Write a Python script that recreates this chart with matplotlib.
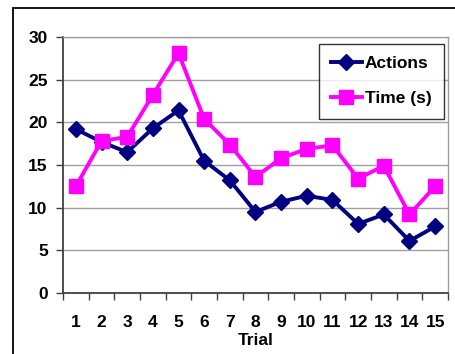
import matplotlib
matplotlib.use("Agg")
import matplotlib.pyplot as plt
from matplotlib.patches import Rectangle

trials = list(range(1, 16))
actions = [19.2, 17.7, 16.5, 19.3, 21.4, 15.5, 13.2, 9.5, 10.7, 11.4, 10.9, 8.1, 9.2, 6.1, 7.8]
time_s = [12.5, 17.8, 18.3, 23.2, 28.1, 20.4, 17.4, 13.6, 15.8, 16.9, 17.3, 13.4, 14.9, 9.2, 12.5]
yticks = [0, 5, 10, 15, 20, 25, 30]

plt.rcParams['font.family'] = ['Liberation Sans', 'DejaVu Sans']
W, H = 456, 354
fig = plt.figure(figsize=(W / 100, H / 100), dpi=100)

# outer chart frame
fig.patches.append(Rectangle((13 / W, -0.1), 1.2, (H - 8) / H + 0.1, transform=fig.transFigure,
                             fill=False, edgecolor='black', linewidth=1.3))

ax = fig.add_axes([63 / W, (H - 293) / H, (448 - 63) / W, (293 - 37) / H])
ax.plot(trials, actions, color='#000080', marker='D', markersize=8, linewidth=2.8, label='Actions')
ax.plot(trials, time_s, color='#FF00FF', marker='s', markersize=10, linewidth=2.8, label='Time (s)')

ax.set_xlim(0.5, 15.5)
ax.set_ylim(0, 30)
ax.set_yticks(yticks)
ax.set_yticklabels([str(v) for v in yticks], fontsize=12.5, fontweight='bold')
ax.set_xticks(trials)
ax.set_xticklabels([str(t) for t in trials], fontsize=12.5, fontweight='bold')
ax.set_xticks([t - 0.5 for t in trials] + [15.5], minor=True)
ax.tick_params(axis='x', which='major', length=0, pad=16)
ax.tick_params(axis='x', which='minor', length=5, width=1, color='#404040', direction='out')
ax.tick_params(axis='y', length=5, width=1, color='#404040', direction='out', pad=6)
ax.yaxis.grid(True, color='#a0a0a0', linewidth=1)
ax.set_axisbelow(True)
for s in ['top', 'right']:
    ax.spines[s].set_color('#a0a0a0')
    ax.spines[s].set_linewidth(1)
for s in ['left', 'bottom']:
    ax.spines[s].set_color('#404040')
    ax.spines[s].set_linewidth(1.3)

ax.set_xlabel('Trial', fontsize=12.5, fontweight='bold', labelpad=2)

leg = ax.legend(loc='upper left', bbox_to_anchor=((319 - 63) / (448 - 63), (293 - 44) / (293 - 37)),
                prop={'weight': 'bold', 'size': 12.5}, frameon=True, fancybox=False,
                handlelength=1.75, handletextpad=0.2, borderpad=0.7, labelspacing=1.15,
                borderaxespad=0)
leg.get_frame().set_edgecolor('black')
leg.get_frame().set_linewidth(1)

fig.savefig('out.png', dpi=100)
